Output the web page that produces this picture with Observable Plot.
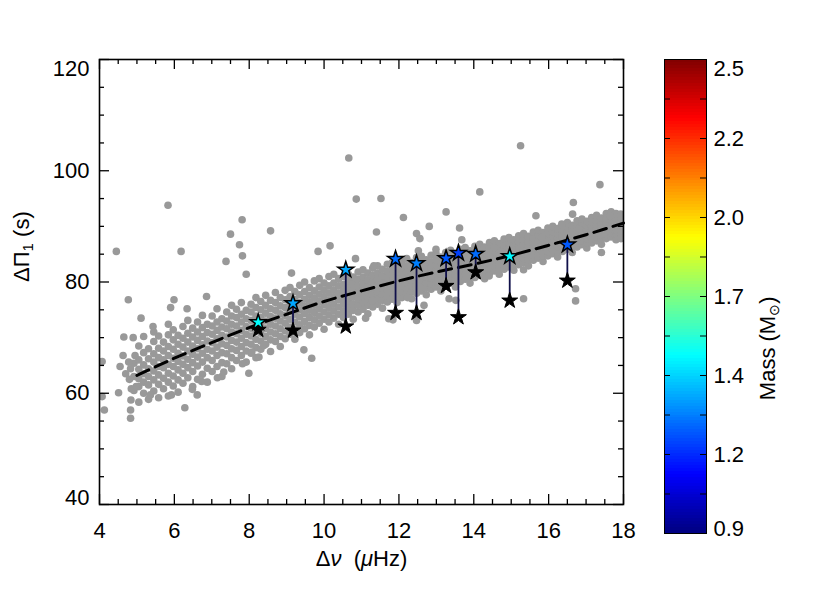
<!DOCTYPE html>
<html><head><meta charset="utf-8">
<script src="https://cdn.jsdelivr.net/npm/d3@7"></script>
<script src="https://cdn.jsdelivr.net/npm/@observablehq/plot@0.6"></script>
<style>
body{margin:0;background:#fff;}
#wrap{position:relative;width:830px;height:593px;background:#fff;}
#wrap svg{position:absolute;left:0;top:0;}
</style></head><body><div id="wrap"></div>
<script>
// ---------- DATA ----------
// dense band of the gray sample: each row = [Δν, ΔΠ1 values...]
const bandRows = [
[4.92,60.5,63.0,65.4],
[5.05,58.4,61.2,62.6,64.3,66.0,68.5],
[5.18,60.0,62.0,63.5,65.1,67.3,70.2],
[5.31,58.9,61.5,63.0,64.4,66.2,68.0],
[5.45,60.4,62.4,64.0,65.6,67.1,69.3,71.0],
[5.58,59.2,61.6,63.3,64.8,66.4,68.1,70.3],
[5.71,60.8,62.7,64.6,66.0,67.6,69.2],
[5.84,59.5,62.0,63.6,65.2,66.8,68.4,70.5,72.4],
[5.97,61.3,63.1,64.8,66.3,67.9,69.6,71.4],
[6.10,60.2,62.4,64.2,65.7,67.2,68.8,70.4],
[6.23,61.8,63.6,65.2,66.7,68.3,69.9,72.0],
[6.36,62.8,64.6,66.1,67.6,69.2,70.8,73.1],
[6.49,61.2,63.9,65.5,67.0,68.5,70.1,71.7],
[6.62,62.5,64.9,66.5,68.0,69.5,71.0,72.8],
[6.75,63.4,65.6,67.2,68.7,70.2,71.8,74.0],
[6.88,62.0,64.5,66.4,67.9,69.4,70.9,72.4],
[7.01,63.9,65.9,67.6,69.1,70.6,72.1,73.9],
[7.14,64.8,66.8,68.3,69.8,71.3,72.8,75.2],
[7.27,63.0,65.5,67.3,68.9,70.4,71.9,73.4],
[7.40,65.3,67.1,68.6,70.1,71.6,73.0,74.6],
[7.53,64.4,66.4,68.0,69.5,71.0,72.4,73.9,75.8],
[7.66,65.9,67.7,69.2,70.7,72.1,73.6,75.1],
[7.79,66.8,68.4,69.9,71.3,72.8,74.2,76.3],
[7.92,65.6,67.6,69.1,70.6,72.0,73.4,74.9],
[8.05,67.2,68.8,70.3,71.7,73.1,74.6,76.0],
[8.18,66.4,68.2,69.7,71.1,72.5,73.9,75.4,77.2],
[8.31,67.9,69.4,70.8,72.2,73.6,75.0,76.5],
[8.44,68.8,70.2,71.6,73.0,74.4,75.8,77.6],
[8.57,67.5,69.6,71.0,72.4,73.8,75.2,76.7],
[8.70,69.3,70.7,72.1,73.5,74.9,76.3,78.1],
[8.83,68.4,70.2,71.6,73.0,74.3,75.7,77.2],
[8.96,69.8,71.2,72.6,74.0,75.4,76.8,78.5],
[9.09,70.6,71.9,73.3,74.7,76.0,77.4,79.0],
[9.22,69.7,71.4,72.8,74.2,75.5,76.9,78.3],
[9.35,70.9,72.3,73.7,75.0,76.3,77.7,79.4],
[9.48,71.6,72.9,74.3,75.6,76.9,78.3,80.0],
[9.61,70.5,72.2,73.6,74.9,76.3,77.6,79.0],
[9.74,71.9,73.2,74.5,75.8,77.1,78.4,80.2],
[9.87,72.6,73.9,75.2,76.5,77.8,79.1,80.6],
[10.00,71.5,73.3,74.6,75.9,77.2,78.5,79.8],
[10.13,72.8,74.1,75.4,76.7,78.0,79.3,81.0],
[10.26,73.5,74.8,76.0,77.3,78.5,79.8,81.4],
[10.39,72.4,74.2,75.5,76.8,78.0,79.3,80.6],
[10.52,73.6,74.8,76.0,77.2,78.4,79.6,81.0],
[10.65,74.2,75.4,76.6,77.8,79.0,80.2,81.4],
[10.78,73.3,74.9,76.1,77.3,78.5,79.7,80.9],
[10.91,74.6,75.8,77.0,78.1,79.3,80.5,81.8],
[11.04,75.1,76.3,77.4,78.6,79.7,80.9,82.2],
[11.17,74.3,75.8,76.9,78.1,79.2,80.4,81.6],
[11.30,75.5,76.7,77.8,78.9,80.1,81.2,82.5],
[11.43,76.0,77.1,78.2,79.3,80.5,81.6,82.9],
[11.56,75.3,76.7,77.8,78.9,80.0,81.1,82.3],
[11.69,76.4,77.5,78.6,79.7,80.8,81.9,83.2],
[11.82,76.9,78.0,79.0,80.1,81.2,82.3,83.5],
[11.95,76.3,77.5,78.6,79.7,80.7,81.8,82.9],
[12.08,77.2,78.3,79.3,80.4,81.4,82.5,83.7],
[12.21,77.7,78.7,79.8,80.8,81.8,82.9,84.2],
[12.34,77.0,78.2,79.3,80.3,81.3,82.4,83.5],
[12.47,78.0,79.0,80.0,81.0,82.0,83.1,84.4],
[12.60,78.4,79.4,80.4,81.4,82.4,83.4,84.6],
[12.73,77.7,78.9,79.9,80.9,81.9,82.9,84.0],
[12.86,78.7,79.7,80.7,81.6,82.6,83.6,84.8],
[12.99,79.1,80.1,81.0,82.0,83.0,84.0,85.2],
[13.12,78.4,79.6,80.6,81.5,82.5,83.5,84.5],
[13.25,79.4,80.3,81.3,82.2,83.2,84.1,85.3],
[13.38,79.8,80.7,81.7,82.6,83.5,84.5,85.7],
[13.51,79.1,80.3,81.2,82.2,83.1,84.1,85.1],
[13.64,80.1,81.0,81.9,82.9,83.8,84.7,85.9],
[13.77,80.5,81.4,82.3,83.2,84.2,85.1,86.2],
[13.90,79.8,81.0,81.9,82.8,83.7,84.6,85.6],
[14.03,80.8,81.7,82.6,83.5,84.4,85.3,86.4],
[14.16,81.2,82.1,83.0,83.9,84.8,85.7,86.8],
[14.29,80.6,81.7,82.6,83.5,84.4,85.3,86.3],
[14.42,81.6,82.4,83.3,84.2,85.1,86.0,87.1],
[14.55,82.0,82.8,83.7,84.6,85.5,86.4,87.4],
[14.68,81.4,82.4,83.3,84.2,85.0,85.9,86.9],
[14.81,82.3,83.1,84.0,84.9,85.8,86.6,87.7],
[14.94,82.7,83.5,84.4,85.2,86.1,87.0,88.0],
[15.07,82.1,83.2,84.0,84.9,85.8,86.6,87.6],
[15.20,83.1,83.9,84.8,85.6,86.5,87.3,88.3],
[15.33,83.5,84.3,85.1,86.0,86.8,87.7,88.7],
[15.46,82.9,83.9,84.8,85.6,86.5,87.3,88.2],
[15.59,83.9,84.7,85.5,86.4,87.2,88.0,89.0],
[15.72,84.3,85.1,85.9,86.7,87.6,88.4,89.3],
[15.85,83.7,84.7,85.5,86.3,87.2,88.0,88.9],
[15.98,84.7,85.5,86.3,87.1,87.9,88.7,89.7],
[16.11,85.1,85.9,86.7,87.5,88.3,89.1,90.0],
[16.24,84.5,85.5,86.3,87.1,87.9,88.7,89.6],
[16.37,85.5,86.3,87.1,87.9,88.6,89.4,90.3],
[16.50,85.9,86.7,87.4,88.2,89.0,89.8,90.7],
[16.63,85.3,86.3,87.1,87.8,88.6,89.4,90.2],
[16.76,86.3,87.1,87.8,88.6,89.3,90.1,91.0],
[16.89,86.7,87.4,88.2,88.9,89.7,90.5,91.3],
[17.02,86.1,87.1,87.8,88.6,89.3,90.1,90.9],
[17.15,87.0,87.8,88.5,89.3,90.0,90.8,91.6],
[17.28,87.4,88.1,88.9,89.6,90.4,91.1,92.0],
[17.41,86.8,87.8,88.5,89.3,90.0,90.7,91.5],
[17.54,87.8,88.5,89.2,90.0,90.7,91.4,92.3],
[17.67,88.1,88.9,89.6,90.3,91.1,91.8,92.6],
[17.80,87.6,88.6,89.3,90.0,90.7,91.5,92.3],
[17.93,88.5,89.3,90.0,90.7,91.5,92.2]
];
// scattered gray points outside the band: [Δν, ΔΠ1]
const outliers = [
[5.83,93.8],[4.45,85.5],[6.18,85.5],[7.81,91.2],[7.50,88.6],[8.57,89.2],[7.74,86.7],[7.82,84.7],
[7.38,83.7],[7.92,81.4],[9.84,85.5],[10.16,86.5],[9.13,81.6],[10.66,102.3],[4.77,76.8],[5.11,73.5],
[5.43,72.0],[4.65,70.1],[4.90,70.0],[5.99,76.8],[5.90,75.4],[6.34,75.2],[6.86,77.4],[4.63,66.8],
[4.07,65.7],[4.07,59.4],[4.13,57.0],[4.51,60.1],[4.84,58.8],[4.83,55.5],[4.85,60.8],[5.36,59.7],
[5.92,59.7],[6.28,57.4],[6.48,60.7],[6.61,59.7],[6.73,62.1],[7.15,62.8],[7.32,63.8],[7.99,63.6],
[7.82,65.3],[8.26,66.5],[9.46,67.8],[9.67,66.3],[8.07,67.4],[8.39,68.6],[4.78,65.6],[4.83,64.4],
[4.80,62.5],[4.83,57.0],[4.98,61.2],[4.70,63.5],[4.55,64.8],[4.95,66.8],
[15.25,104.5],[10.86,94.9],[11.52,95.0],[14.16,96.2],[17.37,97.5],[16.66,94.3],[12.12,91.6],[13.26,92.6],
[12.81,90.0],[13.62,89.7],[11.40,89.0],[12.47,88.7],[12.56,87.8],[15.66,91.9],[16.35,90.4],[16.64,92.2],
[17.64,91.9],[13.68,87.6],[12.99,85.9],[12.52,85.6],[11.33,82.9],[10.84,84.2],[11.11,73.5],[11.73,73.4],
[11.84,73.2],[12.47,73.1],[12.67,75.8],[13.34,77.0],[13.52,76.7],[15.33,77.0],[15.33,82.2],[16.72,78.8],
[16.72,76.6],[17.41,85.3],[17.93,87.8],[14.54,86.2],[15.82,88.0],[16.81,89.5],[14.41,81.1],[12.85,81.1],
[12.23,77.2],[11.29,76.6]
];
// dashed reference relation
const fitDnu = [5,6,7,8,9,10,11,12,13,14,15,16,17,18];
const fitDpi = [63.2,66.3,69.1,71.8,74.2,76.5,78.4,80.2,81.8,83.2,84.8,86.6,88.5,90.6];
// highlighted stars
const starDnu   = [8.24,9.17,10.58,11.91,12.47,13.26,13.59,14.05,14.96,16.50];
const starObs   = [72.75,76.17,82.2,84.14,83.36,84.25,85.22,85.04,84.61,86.71];
const starModel = [71.4,71.26,72.0,74.44,74.44,79.29,73.66,81.74,76.65,80.24];
const starMass  = [1.50,1.36,1.36,1.27,1.30,1.24,1.20,1.27,1.49,1.24];
// axes
const xMajor = [4,6,8,10,12,14,16,18];
const yMajor = [40,60,80,100,120];
const massDomain = [0.9,2.5];
const cbTickValues = [0.9,1.1667,1.4333,1.7,1.9667,2.2333,2.5];
const cbTickLabels = ["0.9","1.2","1.4","1.7","2.0","2.2","2.5"];

// ---------- build ----------
const W = 830, H = 593;
const mL = 99, mR = 207, mT = 59, mB = 89;
const pW = W - mL - mR, pH = H - mT - mB;
const FONT = "'Liberation Sans', Arial, sans-serif";
const FS = 22;

function clamp01(v){return Math.max(0, Math.min(1, v));}
function jet(t){
  t = clamp01(t);
  const r = clamp01(1.5 - Math.abs(4*t - 3));
  const g = clamp01(1.5 - Math.abs(4*t - 2));
  const b = clamp01(1.5 - Math.abs(4*t - 1));
  return d3.rgb(r*255, g*255, b*255).formatHex();
}
const massColor = m => jet((m - massDomain[0]) / (massDomain[1] - massDomain[0]));

const gray = bandRows.flatMap(([v, ...ps]) => ps.map(p => ({dnu: v, dpi: p})))
  .concat(outliers.map(([v, p]) => ({dnu: v, dpi: p})));
const fit = fitDnu.map((v, i) => ({dnu: v, dpi: fitDpi[i]}));
const stars = starDnu.map((v, i) => ({dnu: v, obs: starObs[i], model: starModel[i], mass: starMass[i]}));

const xMinor = d3.range(4, 18.001, 0.5).filter(v => !xMajor.includes(v));
const yMinor = d3.range(40, 120.001, 5).filter(v => !yMajor.includes(v));

const main = Plot.plot({
  width: W, height: H,
  marginLeft: mL, marginRight: mR, marginTop: mT, marginBottom: mB,
  style: {fontFamily: FONT, fontSize: FS + "px", background: "white"},
  x: {domain: [4, 18], axis: null},
  y: {domain: [40, 120], axis: null},
  marks: [
    Plot.dot(gray, {x: "dnu", y: "dpi", r: 3.8, fill: "#999999", clip: true}),
    Plot.line(fit, {x: "dnu", y: "dpi", stroke: "black", strokeWidth: 3, strokeDasharray: "13,7", curve: "monotone-x"}),
    Plot.link(stars, {x1: "dnu", x2: "dnu", y1: "model", y2: "obs", stroke: "#10104a", strokeWidth: 1.8}),
    Plot.dot(stars, {x: "dnu", y: "model", symbol: "star", r: 5, fill: "black", stroke: "black", strokeWidth: 1}),
    Plot.dot(stars, {x: "dnu", y: "obs", symbol: "star", r: 5, fill: d => massColor(d.mass), stroke: "black", strokeWidth: 1.5}),
    // inward ticks on all four sides
    Plot.tickX(xMajor, {x: d => d, insetTop: pH - 10, stroke: "black", strokeWidth: 1.3}),
    Plot.tickX(xMajor, {x: d => d, insetBottom: pH - 10, stroke: "black", strokeWidth: 1.3}),
    Plot.tickX(xMinor, {x: d => d, insetTop: pH - 5, stroke: "black", strokeWidth: 1.3}),
    Plot.tickX(xMinor, {x: d => d, insetBottom: pH - 5, stroke: "black", strokeWidth: 1.3}),
    Plot.tickY(yMajor, {y: d => d, insetRight: pW - 10, stroke: "black", strokeWidth: 1.3}),
    Plot.tickY(yMajor, {y: d => d, insetLeft: pW - 10, stroke: "black", strokeWidth: 1.3}),
    Plot.tickY(yMinor, {y: d => d, insetRight: pW - 5, stroke: "black", strokeWidth: 1.3}),
    Plot.tickY(yMinor, {y: d => d, insetLeft: pW - 5, stroke: "black", strokeWidth: 1.3}),
    Plot.frame({stroke: "black", strokeWidth: 1.6}),
    // tick labels
    Plot.text(xMajor, {x: d => d, text: d => String(d), frameAnchor: "bottom", dy: 26, fontSize: FS, lineAnchor: "middle", fill: "black"}),
    Plot.text(yMajor.filter(v => v > 40 && v < 120), {y: d => d, text: d => String(d), frameAnchor: "left", dx: -10, textAnchor: "end", fontSize: FS, fill: "black"}),
    Plot.text([120], {y: d => d, text: d => String(d), frameAnchor: "left", dx: -10, dy: 9, textAnchor: "end", fontSize: FS, fill: "black"}),
    Plot.text([40], {y: d => d, text: d => String(d), frameAnchor: "left", dx: -10, dy: -7, textAnchor: "end", fontSize: FS, fill: "black"}),
    // axis titles
    Plot.text(["Δν (μHz)"], {frameAnchor: "bottom", dy: 54, fontSize: FS, lineAnchor: "middle", fill: "black", className: "xtitle"}),
    Plot.text(["ΔΠ1 (s)"], {frameAnchor: "left", dx: -78, rotate: -90, fontSize: FS, lineAnchor: "middle", fill: "black", className: "ytitle"})
  ]
});

// colour bar
const cbW = 42;
const steps = d3.range(0, 160).map(i => massDomain[0] + i * 0.01);
const cbMinor = cbTickValues.slice(1).map((v, i) => (v + cbTickValues[i]) / 2);
const cb = Plot.plot({
  width: W, height: H,
  marginLeft: 664, marginRight: W - 664 - cbW, marginTop: 59, marginBottom: H - 533,
  style: {fontFamily: FONT, fontSize: FS + "px", background: "transparent", overflow: "visible"},
  x: {domain: [0, 1], axis: null},
  y: {domain: massDomain, axis: null},
  marks: [
    Plot.rect(steps, {x1: () => 0, x2: () => 1, y1: d => d, y2: d => Math.min(d + 0.0105, massDomain[1]), fill: d => massColor(d + 0.005), shapeRendering: "crispEdges"}),
    Plot.tickY(cbTickValues, {y: d => d, insetRight: cbW - 6, stroke: "black", strokeWidth: 1}),
    Plot.tickY(cbTickValues, {y: d => d, insetLeft: cbW - 6, stroke: "black", strokeWidth: 1}),
    Plot.tickY(cbMinor, {y: d => d, insetRight: cbW - 6, stroke: "black", strokeWidth: 1}),
    Plot.tickY(cbMinor, {y: d => d, insetLeft: cbW - 6, stroke: "black", strokeWidth: 1}),
    Plot.frame({stroke: "black", strokeWidth: 1}),
    Plot.text(cbTickValues.map((v, i) => ({v, label: cbTickLabels[i]})).filter(d => d.v > 0.9 && d.v < 2.5), {y: "v", text: "label", frameAnchor: "right", dx: 7, textAnchor: "start", fontSize: FS, fill: "black"}),
    Plot.text([{v: 2.5, label: "2.5"}], {y: "v", text: "label", frameAnchor: "right", dx: 7, dy: 9, textAnchor: "start", fontSize: FS, fill: "black"}),
    Plot.text([{v: 0.9, label: "0.9"}], {y: "v", text: "label", frameAnchor: "right", dx: 7, dy: -5, textAnchor: "start", fontSize: FS, fill: "black"}),
    Plot.text(["Mass (M⊙)"], {frameAnchor: "right", dx: 61, dy: 0, rotate: -90, fontSize: FS, lineAnchor: "middle", fill: "black", className: "cbtitle"})
  ]
});

const wrap = document.getElementById("wrap");
wrap.appendChild(main);
wrap.appendChild(cb);

// rich text for titles (italic Greek, subscripts)
const NS = "http://www.w3.org/2000/svg";
function rich(svg, cls, parts){
  const t = svg.querySelector("." + cls + " text");
  if (!t) return;
  t.textContent = "";
  for (const p of parts){
    const s = document.createElementNS(NS, "tspan");
    s.textContent = p.t;
    if (p.italic) s.setAttribute("font-style", "italic");
    if (p.sub){ s.setAttribute("baseline-shift", "-25%"); s.setAttribute("font-size", p.size || "15px"); }
    t.appendChild(s);
  }
}
rich(main, "xtitle", [{t: "Δ"}, {t: "ν", italic: true}, {t: "  ("}, {t: "μ", italic: true}, {t: "Hz)"}]);
rich(main, "ytitle", [{t: "ΔΠ"}, {t: "1", sub: true}, {t: " (s)"}]);
rich(cb, "cbtitle", [{t: "Mass (M"}, {t: "⊙", sub: true, size: "14px"}, {t: ")"}]);
</script></body></html>
